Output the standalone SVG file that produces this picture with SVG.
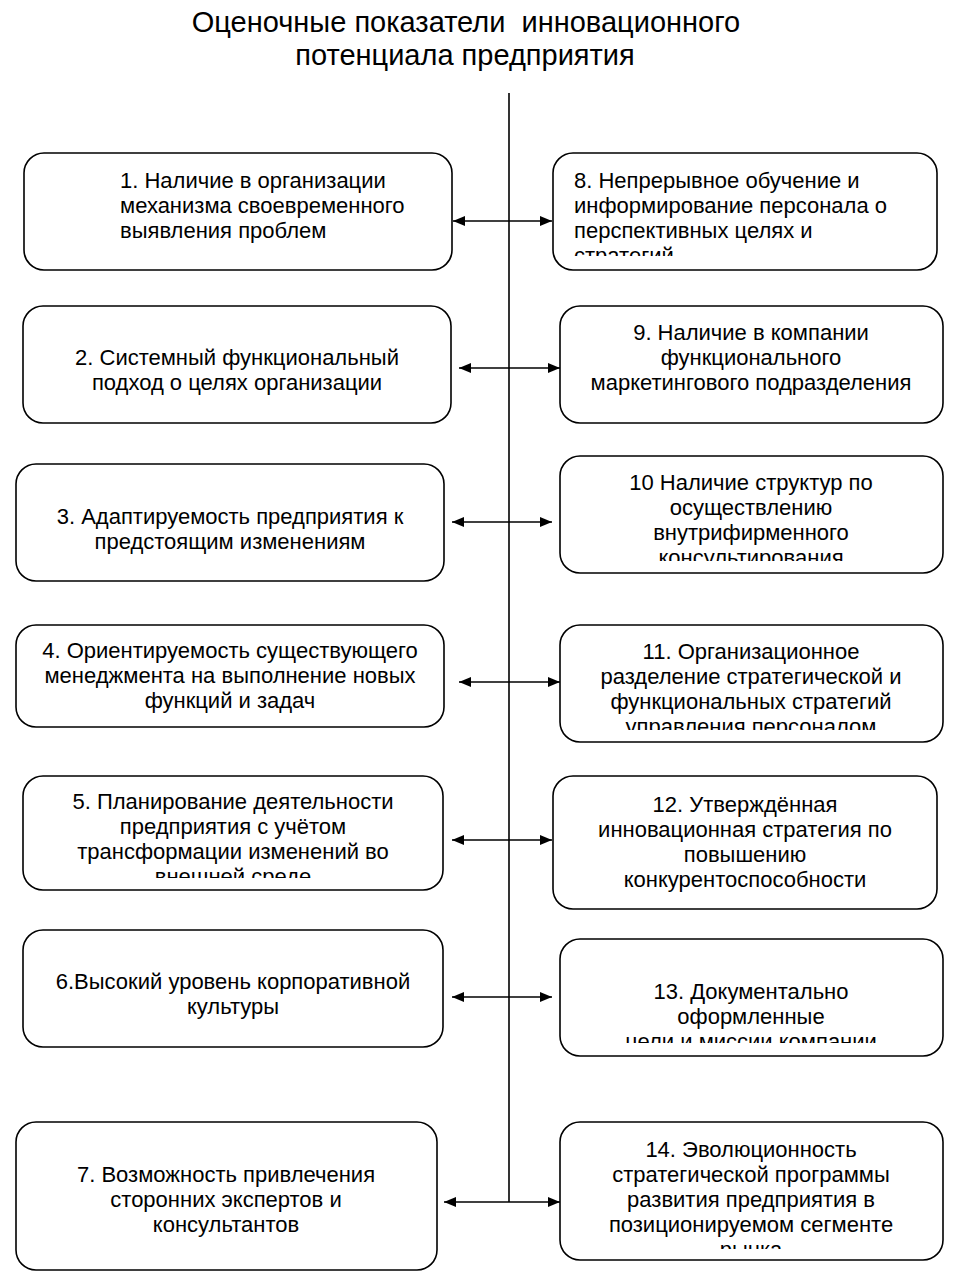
<svg xmlns="http://www.w3.org/2000/svg" width="960" height="1283" viewBox="0 0 960 1283">
<style>
.box{fill:#fff;stroke:#000;stroke-width:1.6}
.t{font-family:"Liberation Sans",Arial,sans-serif;font-size:22px;fill:#000}
.c{text-anchor:middle}
.title{font-family:"Liberation Sans",Arial,sans-serif;font-size:29px;fill:#000;text-anchor:middle;white-space:pre}
.ln{stroke:#000;stroke-width:1.6;fill:none}
</style>
<defs>
<marker id="ah" viewBox="0 0 12 10" refX="12" refY="5" markerWidth="12" markerHeight="10" markerUnits="userSpaceOnUse" orient="auto-start-reverse">
<path d="M0,0 L12,5 L0,10 Z" fill="#000"/>
</marker>
<clipPath id="c8"><rect x="553" y="153" width="384" height="103"/></clipPath>
<clipPath id="c10"><rect x="560" y="456" width="383" height="105"/></clipPath>
<clipPath id="c11"><rect x="560" y="625" width="383" height="105"/></clipPath>
<clipPath id="c5"><rect x="23" y="776" width="420" height="102"/></clipPath>
<clipPath id="c13"><rect x="560" y="939" width="383" height="104"/></clipPath>
<clipPath id="c14"><rect x="560" y="1122" width="383" height="127"/></clipPath>
</defs>

<g id="title">
<text class="title" x="466" y="32" xml:space="preserve">Оценочные показатели  инновационного</text>
<text class="title" x="465" y="65">потенциала предприятия</text>
</g>

<g id="connectors">
<line class="ln" x1="509" y1="93" x2="509" y2="1202"/>
<line class="ln" x1="453" y1="221" x2="552" y2="221" marker-start="url(#ah)" marker-end="url(#ah)"/>
<line class="ln" x1="459" y1="368" x2="560" y2="368" marker-start="url(#ah)" marker-end="url(#ah)"/>
<line class="ln" x1="452" y1="522" x2="552" y2="522" marker-start="url(#ah)" marker-end="url(#ah)"/>
<line class="ln" x1="459" y1="682" x2="560" y2="682" marker-start="url(#ah)" marker-end="url(#ah)"/>
<line class="ln" x1="452" y1="840" x2="552" y2="840" marker-start="url(#ah)" marker-end="url(#ah)"/>
<line class="ln" x1="452" y1="997" x2="552" y2="997" marker-start="url(#ah)" marker-end="url(#ah)"/>
<line class="ln" x1="444" y1="1202" x2="560" y2="1202" marker-start="url(#ah)" marker-end="url(#ah)"/>
</g>

<g id="n1">
<rect class="box" x="24" y="153" width="428" height="117" rx="20"/>
<text class="t" x="120" y="188">1. Наличие в организации</text>
<text class="t" x="120" y="213">механизма своевременного</text>
<text class="t" x="120" y="238">выявления проблем</text>
</g>
<g id="n8">
<rect class="box" x="553" y="153" width="384" height="117" rx="20"/>
<g clip-path="url(#c8)">
<text class="t" x="574" y="188">8. Непрерывное обучение и</text>
<text class="t" x="574" y="213">информирование персонала о</text>
<text class="t" x="574" y="238">перспективных целях и</text>
<text class="t" x="574" y="263">стратегий</text>
</g>
</g>

<g id="n2">
<rect class="box" x="23" y="306" width="428" height="117" rx="20"/>
<text class="t c" x="237" y="365">2. Системный функциональный</text>
<text class="t c" x="237" y="390">подход о целях организации</text>
</g>
<g id="n9">
<rect class="box" x="560" y="306" width="383" height="117" rx="20"/>
<text class="t c" x="751" y="340">9. Наличие в компании</text>
<text class="t c" x="751" y="365">функционального</text>
<text class="t c" x="751" y="390">маркетингового подразделения</text>
</g>

<g id="n3">
<rect class="box" x="16" y="464" width="428" height="117" rx="20"/>
<text class="t c" x="230" y="524">3. Адаптируемость предприятия к</text>
<text class="t c" x="230" y="549">предстоящим изменениям</text>
</g>
<g id="n10">
<rect class="box" x="560" y="456" width="383" height="117" rx="20"/>
<g clip-path="url(#c10)">
<text class="t c" x="751" y="490">10 Наличие структур по</text>
<text class="t c" x="751" y="515">осуществлению</text>
<text class="t c" x="751" y="540">внутрифирменного</text>
<text class="t c" x="751" y="565">консультирования</text>
</g>
</g>

<g id="n4">
<rect class="box" x="16" y="625" width="428" height="102" rx="20"/>
<text class="t c" x="230" y="658">4. Ориентируемость существующего</text>
<text class="t c" x="230" y="683">менеджмента на выполнение новых</text>
<text class="t c" x="230" y="708">функций и задач</text>
</g>
<g id="n11">
<rect class="box" x="560" y="625" width="383" height="117" rx="20"/>
<g clip-path="url(#c11)">
<text class="t c" x="751" y="659">11. Организационное</text>
<text class="t c" x="751" y="684">разделение стратегической и</text>
<text class="t c" x="751" y="709">функциональных стратегий</text>
<text class="t c" x="751" y="734">управления персоналом</text>
</g>
</g>

<g id="n5">
<rect class="box" x="23" y="776" width="420" height="114" rx="20"/>
<g clip-path="url(#c5)">
<text class="t c" x="233" y="809">5. Планирование деятельности</text>
<text class="t c" x="233" y="834">предприятия с учётом</text>
<text class="t c" x="233" y="859">трансформации изменений во</text>
<text class="t c" x="233" y="884">внешней среде</text>
</g>
</g>
<g id="n12">
<rect class="box" x="553" y="776" width="384" height="133" rx="20"/>
<text class="t c" x="745" y="812">12. Утверждённая</text>
<text class="t c" x="745" y="837">инновационная стратегия по</text>
<text class="t c" x="745" y="862">повышению</text>
<text class="t c" x="745" y="887">конкурентоспособности</text>
</g>

<g id="n6">
<rect class="box" x="23" y="930" width="420" height="117" rx="20"/>
<text class="t c" x="233" y="989">6.Высокий уровень корпоративной</text>
<text class="t c" x="233" y="1014">культуры</text>
</g>
<g id="n13">
<rect class="box" x="560" y="939" width="383" height="117" rx="20"/>
<g clip-path="url(#c13)">
<text class="t c" x="751" y="999">13. Документально</text>
<text class="t c" x="751" y="1024">оформленные</text>
<text class="t c" x="751" y="1049">цели и миссии компании</text>
</g>
</g>

<g id="n7">
<rect class="box" x="16" y="1122" width="421" height="148" rx="20"/>
<text class="t c" x="226" y="1182">7. Возможность привлечения</text>
<text class="t c" x="226" y="1207">сторонних экспертов и</text>
<text class="t c" x="226" y="1232">консультантов</text>
</g>
<g id="n14">
<rect class="box" x="560" y="1122" width="383" height="138" rx="20"/>
<g clip-path="url(#c14)">
<text class="t c" x="751" y="1157">14. Эволюционность</text>
<text class="t c" x="751" y="1182">стратегической программы</text>
<text class="t c" x="751" y="1207">развития предприятия в</text>
<text class="t c" x="751" y="1232">позиционируемом сегменте</text>
<text class="t c" x="751" y="1257">рынка</text>
</g>
</g>
</svg>
